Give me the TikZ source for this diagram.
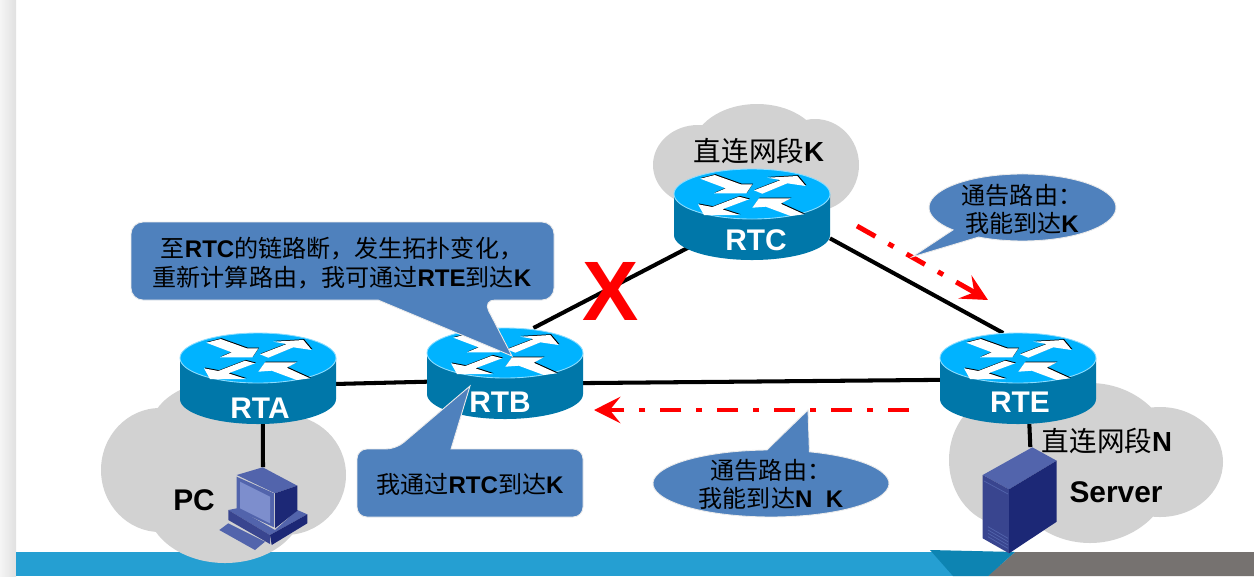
\documentclass[tikz,border=0pt]{standalone}
\usepackage{fontspec}
\setmainfont{Liberation Sans}
\newfontfamily\cjk{Noto Sans CJK SC}
\usepackage{xcolor}
\usetikzlibrary{arrows.meta}

\definecolor{bandblue}{RGB}{37,159,210}
\definecolor{bandteal}{RGB}{13,132,178}
\definecolor{bandgray}{RGB}{118,114,112}
\definecolor{cloudgray}{RGB}{210,210,210}
\definecolor{bubbleblue}{RGB}{79,129,189}
\definecolor{routertopblue}{RGB}{0,179,255}
\definecolor{routerside}{RGB}{0,119,169}
\definecolor{hostlight}{RGB}{82,100,172}
\definecolor{hostmid}{RGB}{57,69,143}
\definecolor{hostdark}{RGB}{28,40,118}
\definecolor{hostscreen}{RGB}{125,142,205}

\newcommand{\zh}[1]{{\cjk #1}}
\newcommand{\routerarrows}{
    (-51.7,-15.3) -- (-37.3,-19) -- (-11.3,-9.7) -- (0.3,-9.7) -- (-5.7,-0.7) -- (-38,-0.7) -- (-26.3,-5.7) -- cycle
    (2,-3.7) -- (28.7,-14) -- (15.3,-16.3) -- (45.3,-18) -- (53.7,-8) -- (35.3,-10.7) -- (10.3,-0.3) -- cycle
    (-54,10.3) -- (-39.7,13) -- (-13,2.7) -- (-3,5.3) -- (-29.7,15.3) -- (-12,21) -- (-48,21) -- cycle
    (52,20.3) -- (38.7,22) -- (13.7,12.7) -- (0.3,13.7) -- (7,4.3) -- (38.7,4.3) -- (28.7,9.7) -- cycle
}

\tikzset{
    routerbox/.style={minimum width=3.12cm,minimum height=1.82cm,inner sep=0pt,outer sep=0pt},
    routername/.style={text=white,font=\fontsize{17}{20}\selectfont\bfseries,inner sep=0pt},
    link/.style={black,line width=2.3pt},
    cloudfill/.style={fill=cloudgray},
    bubble/.style={fill=bubbleblue,draw=black!8,line width=0.5pt},
    bubbletext/.style={align=center,inner sep=0pt,font=\fontsize{13.7}{17}\selectfont},
    nettext/.style={inner sep=0pt,font=\fontsize{15.7}{19}\selectfont},
    hosttext/.style={inner sep=0pt,font=\fontsize{17}{20}\selectfont\bfseries},
    advert/.style={red,line width=2.8pt,dash pattern=on 12pt off 8.5pt on 3.4pt off 8.5pt,
        -{Stealth[length=15pt,width=15pt,inset=6pt]}},
    pics/routerpic/.style={code={
        \begin{scope}[shift={(0,-20.5)}]
            \fill[routerside] (-78,0) -- (-78,41) arc[start angle=180,end angle=0,x radius=78,y radius=25] -- (78,0) -- cycle;
            \draw[fill=routertopblue,draw=routertopblue!45,line width=0.5pt] (0,0) ellipse[x radius=78,y radius=25];
            \fill[black,shift={(0.8,-0.8)}] \routerarrows;
            \fill[white] \routerarrows;
        \end{scope}
    }}
}

\begin{document}
\begin{tikzpicture}[x=0.02cm,y=-0.02cm]
    \useasboundingbox (0,0) rectangle (1254,576);
    % Draw page edge and footer band
    \shade[left color=black!4,right color=black!12] (0,0) rectangle (16,576);
    \fill[bandblue] (16,552) rectangle (1000,576);
    \fill[bandgray] (1015,552) -- (1254,552) -- (1254,576) -- (988,576) -- cycle;
    \fill[bandteal] (930,550) -- (1015,552) -- (988,576) -- (953,576) -- cycle;

    % Draw clouds behind the routers
    \fill[cloudfill] (757,150) ellipse[x radius=65,y radius=46]
        (698,165) ellipse[x radius=45,y radius=40]
        (815,165) ellipse[x radius=44,y radius=46];
    \fill[cloudfill] (160,470) ellipse[x radius=59,y radius=62]
        (285,475) ellipse[x radius=61,y radius=60]
        (225,505) ellipse[x radius=78,y radius=58]
        (225,430) ellipse[x radius=75,y radius=50];
    \fill[cloudfill] (1005,460) ellipse[x radius=56,y radius=65]
        (1090,463) ellipse[x radius=85,y radius=80]
        (1160,462) ellipse[x radius=63,y radius=55];

    % Place routers and hosts
    \node[routerbox] (RTA) at (258,378.5) {};
    \node[routerbox] (RTB) at (505,373.5) {};
    \node[routerbox] (RTC) at (752,214.5) {};
    \node[routerbox] (RTE) at (1018,378.5) {};
    \node[minimum width=1.8cm,minimum height=1.7cm,inner sep=0pt,outer sep=0pt] (hostPC) at (263,509.5) {};
    \node[minimum width=1.48cm,minimum height=2.12cm,inner sep=0pt,outer sep=0pt] (hostServer) at (1020,500) {};

    % Draw links
    \draw[link] (RTA.356.7) -- (RTB.186.9);
    \draw[link] (RTB.353.4) -- (RTE.181.1);
    \draw[link] (RTB.58.4) -- (RTC.center);
    \draw[link] (RTC.343.2) -- (RTE.108.2);
    \draw[link] (RTA.276.3) -- (hostPC.north);
    \draw[link] (RTE.284.8) -- (hostServer.79.3);

    % Draw routers
    \pic at (RTA) {routerpic};
    \pic at (RTB) {routerpic};
    \pic at (RTC) {routerpic};
    \pic at (RTE) {routerpic};
    \node[routername] (nameRTA) at (260,408) {RTA};
    \node[routername] (nameRTB) at (500,402) {RTB};
    \node[routername] (nameRTC) at (756,240) {RTC};
    \node[routername] (nameRTE) at (1020,402) {RTE};

    % Draw PC
    \fill[hostlight] (228.3,510) -- (236.7,508.3) -- (275,530) -- (297.3,510) -- (307.3,514.3) -- (270,535) -- cycle;
    \fill[hostmid] (228.3,510) -- (270,535) -- (270,544) -- (228.3,520) -- cycle;
    \fill[hostdark] (270,535) -- (307.3,514.3) -- (307.3,523.3) -- (271.7,545) -- cycle;
    \fill[hostlight] (219.3,530) -- (228.3,523.3) -- (265,541.7) -- (255,550) -- cycle;
    \fill[hostlight] (236.7,475) -- (262.7,467.3) -- (297.3,485.7) -- (275,493.3) -- cycle;
    \fill[hostlight] (236.7,476.7) -- (274,493.3) -- (274,527.3) -- (236.7,510) -- cycle;
    \fill[hostscreen] (240,481.7) -- (270,496.7) -- (270,523.3) -- (240,508.3) -- cycle;
    \fill[hostdark] (275,493.3) -- (297.3,485.7) -- (297.3,510.7) -- (275,528.3) -- cycle;

    % Draw server
    \fill[hostlight] (982.7,475) -- (1032.3,447.3) -- (1056.7,460.7) -- (1009,489.3) -- cycle;
    \fill[hostmid] (982.7,475) -- (1009,489.3) -- (1009,553.3) -- (982.7,538.3) -- cycle;
    \fill[hostdark] (1009,489.3) -- (1056.7,460.7) -- (1056.7,521.7) -- (1009,553.3) -- cycle;
    \draw[hostlight,line width=0.4pt] (988,526.7) -- (1008,538.3) (988,530) -- (1008,541.7)
        (988,533.3) -- (1008,545) (988,536.7) -- (1008,548.3) (984,481) -- (1008,494);

    % Draw network and host labels
    \node[nettext] (netK) at (759,151) {\zh{直连网段}\textbf{K}};
    \node[nettext] (netN) at (1107,441) {\zh{直连网段}\textbf{N}};
    \node[hosttext] (namePC) at (194,500) {PC};
    \node[hosttext] (nameServer) at (1116,492) {Server};

    % Draw link failure mark
    \node[text=red,inner sep=0pt,font=\fontsize{48}{50}\selectfont\bfseries] (breakX) at (611,291.5) {X};

    % Draw advertisement arrows
    \coordinate (advertKstart) at (857,226);
    \coordinate (advertKend) at (988,300);
    \coordinate (advertNstart) at (909,410);
    \coordinate (advertNend) at (594,410);
    \draw[advert] (advertKstart) -- (advertKend);
    \draw[advert] (advertNstart) -- (advertNend);

    % Draw callouts
    \draw[bubble] (300,222) [rounded corners=6.8pt] -- (554,222) -- (554,300) -- (483,300) [sharp corners] -- (512,356) -- (378,300) [rounded corners=6.8pt] -- (131,300) -- (131,222) -- cycle;
    \node[bubbletext] (noteRTBnew) at (342,263) {\zh{至}\textbf{RTC}\zh{的链路断，发生拓扑变化，}\\\zh{重新计算路由，我可通过}\textbf{RTE}\zh{到达}\textbf{K}};
    \draw[bubble] (470,449) [rounded corners=5.6pt] -- (583,449) -- (583,517) -- (357,517) -- (357,449) -- (396,449) [sharp corners] -- (470,386) -- (451,449) -- cycle;
    \node[bubbletext] (noteRTBold) at (470,484) {\zh{我通过}\textbf{RTC}\zh{到达}\textbf{K}};
    \draw[bubble] (953,229.9) arc[start angle=138,end angle=478,x radius=93.5,y radius=33.5] -- (912,257) -- cycle;
    \node[bubbletext,font=\fontsize{13.7}{16}\selectfont] (noteRTC) at (1022,209) {\zh{通告路由：}\\\zh{我能到达}\textbf{K}};
    \draw[bubble] (809.4,451.8) arc[start angle=289,end angle=628,x radius=118,y radius=33.5] -- (808,410) -- cycle;
    \node[bubbletext,font=\fontsize{13.7}{16}\selectfont] (noteRTE) at (771,484) {\zh{通告路由：}\\\zh{我能到达}\textbf{N~~K}};
\end{tikzpicture}
\end{document}
